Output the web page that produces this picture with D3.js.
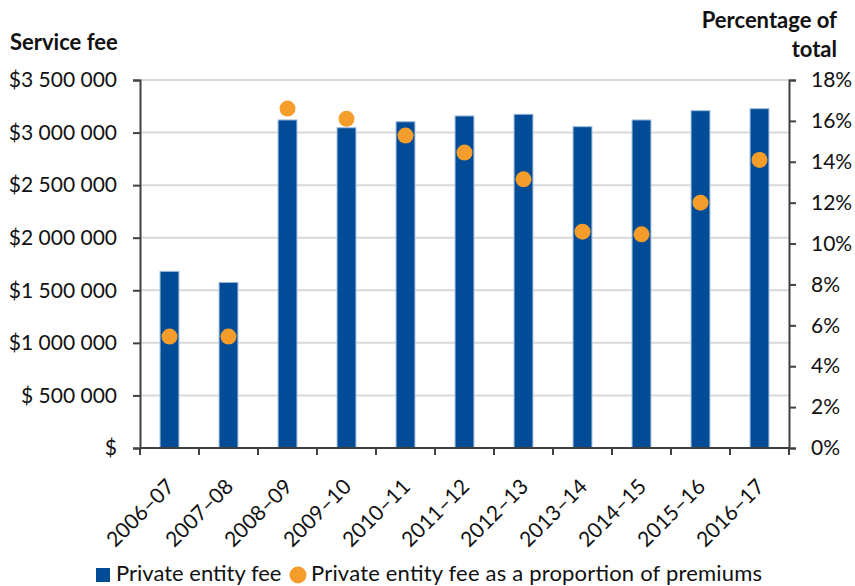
<!DOCTYPE html>
<html lang="en">
<head>
<meta charset="UTF-8">
<title>Private entity fee</title>
<script src="https://d3js.org/d3.v7.min.js"></script>
<style>
    body { margin: 0; background: #fff; }
    svg text { font-family: Lato, "Open Sans", sans-serif; fill: #111; }
    .axis path, .axis line { stroke: #404040; stroke-width: 2; }
    .grid line { stroke: #d9d9d9; stroke-width: 2; }
</style>
</head>
<body>
<svg width="855" height="586"></svg>
<script>
// data
const years = ["2006–07", "2007–08", "2008–09", "2009–10", "2010–11", "2011–12",
               "2012–13", "2013–14", "2014–15", "2015–16", "2016–17"];
const fees = [1680000, 1575000, 3120000, 3046000, 3103000, 3158000,
              3174000, 3056000, 3120000, 3208000, 3227000];
const shares = [5.45, 5.45, 16.6, 16.1, 15.28, 14.45, 13.14, 10.58, 10.45, 12.0, 14.09];
const feeTicks = [0, 500000, 1000000, 1500000, 2000000, 2500000, 3000000, 3500000];
const pctTicks = [0, 2, 4, 6, 8, 10, 12, 14, 16, 18];

const svg = d3.select("svg");
const plotL = 140, plotR = 789, plotT = 80, plotB = 448;

const x = d3.scaleBand().domain(years).range([plotL, plotR])
    .paddingInner(0.68).paddingOuter(0.34);
const yFee = d3.scaleLinear().domain([0, 3500000]).range([plotB, plotT]);
const yPct = d3.scaleLinear().domain([0, 18]).range([plotB, plotT]);

const feeFmt = v => v === 0 ? "$" : "$" + d3.format(",")(v).replace(/,/g, " ").replace(/^500/, " 500");

// gridlines
svg.append("g").attr("class", "grid")
  .selectAll("line").data(feeTicks.slice(1)).join("line")
    .attr("x1", plotL).attr("x2", plotR)
    .attr("y1", d => yFee(d)).attr("y2", d => yFee(d));

// bars
svg.append("g").selectAll("rect").data(fees).join("rect")
    .attr("x", (d, i) => x(years[i]))
    .attr("y", d => yFee(d))
    .attr("width", x.bandwidth())
    .attr("height", d => plotB - yFee(d))
    .attr("fill", "#024c97")
    .attr("stroke", "#9fbbdc")
    .attr("stroke-width", 1);

// dots
svg.append("g").selectAll("circle").data(shares).join("circle")
    .attr("cx", (d, i) => x(years[i]) + x.bandwidth() / 2)
    .attr("cy", d => yPct(d))
    .attr("r", 8)
    .attr("fill", "#f59d2b");

// left axis
const gl = svg.append("g").attr("class", "axis")
    .attr("transform", `translate(${plotL},0)`)
    .call(d3.axisLeft(yFee).tickValues(feeTicks).tickFormat(feeFmt)
        .tickSize(7).tickSizeOuter(7).tickPadding(16));
gl.selectAll("text").style("font-size", "21px");

// right axis
const gr = svg.append("g").attr("class", "axis")
    .attr("transform", `translate(${plotR},0)`)
    .call(d3.axisRight(yPct).tickValues(pctTicks).tickFormat(d => d + "%")
        .tickSize(7).tickSizeOuter(7).tickPadding(15));
gr.selectAll("text").style("font-size", "21px");

// bottom axis with ticks between categories
const gb = svg.append("g").attr("class", "axis")
    .attr("transform", `translate(0,${plotB})`);
gb.append("line").attr("x1", plotL).attr("x2", plotR);
gb.selectAll(".tk").data(d3.range(years.length + 1)).join("line")
    .attr("class", "tk")
    .attr("x1", i => plotL + i * x.step()).attr("x2", i => plotL + i * x.step())
    .attr("y1", 0).attr("y2", 7);
gb.selectAll("text").data(years).join("text")
    .attr("transform", d => `translate(${x(d) + x.bandwidth() / 2 + 6},${40}) rotate(-45)`)
    .attr("text-anchor", "end")
    .style("font-size", "21px")
    .text(d => d);

// axis titles
svg.append("text").attr("x", 10).attr("y", 50)
    .style("font-size", "22px").style("font-weight", "bold").text("Service fee");
svg.append("text").attr("x", 837).attr("y", 28).attr("text-anchor", "end")
    .style("font-size", "22px").style("font-weight", "bold").text("Percentage of");
svg.append("text").attr("x", 837).attr("y", 57).attr("text-anchor", "end")
    .style("font-size", "22px").style("font-weight", "bold").text("total");

// legend
const lg = svg.append("g").style("font-size", "22px");
lg.append("rect").attr("x", 96).attr("y", 568).attr("width", 14).attr("height", 14).attr("fill", "#024c97");
lg.append("text").attr("x", 116).attr("y", 581).text("Private entity fee");
lg.append("circle").attr("cx", 298).attr("cy", 575).attr("r", 8.5).attr("fill", "#f59d2b");
lg.append("text").attr("x", 311).attr("y", 581).attr("textLength", 451).text("Private entity fee as a proportion of premiums");
</script>
</body>
</html>
